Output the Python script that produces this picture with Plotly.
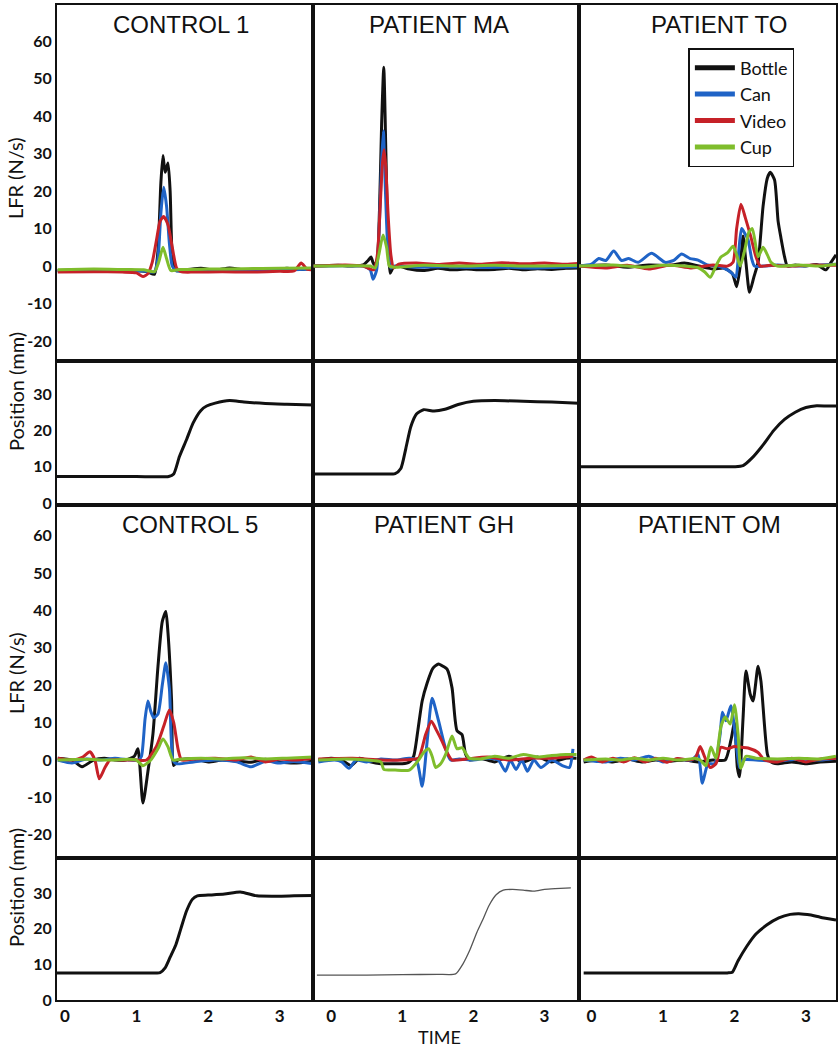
import plotly.graph_objects as go

# ---------------- DATA ----------------
series_names = ["Bottle", "Can", "Video", "Cup"]
panel_titles = ["CONTROL 1", "PATIENT MA", "PATIENT TO", "CONTROL 5", "PATIENT GH", "PATIENT OM"]
lfr_ticks = [60, 50, 40, 30, 20, 10, 0, -10, -20]
lfr_tick_text = ["60", "50", "40", "30", "20", "10", "0", "-10", "-20"]
pos_ticks = [0, 10, 20, 30]
time_ticks = [0, 1, 2, 3]

# CONTROL 1
C1_bottle_t = [-0.1, 0.2, 0.5, 0.8, 1.0, 1.15, 1.25, 1.3, 1.34, 1.37, 1.40, 1.44, 1.47, 1.5, 1.55, 1.7, 1.9, 2.1, 2.3, 2.5, 2.7, 2.9, 3.1, 3.3, 3.47]
C1_bottle_v = [-1.2, -1.0, -1.3, -0.9, -1.2, -1.5, -2.2, 4, 22, 29.5, 25, 27.5, 20, 3, -1.2, -1.0, -0.6, -1.1, -0.5, -1.0, -0.7, -1.1, -0.6, -0.9, -0.5]
C1_can_t = [-0.1, 0.4, 0.8, 1.1, 1.25, 1.3, 1.34, 1.38, 1.42, 1.46, 1.5, 1.56, 1.8, 2.2, 2.6, 3.0, 3.47]
C1_can_v = [-1.3, -1.2, -1.4, -1.3, -1.5, 2, 14, 21, 16, 6, 0, -1.3, -1.2, -1.3, -1.2, -1.1, -0.8]
C1_video_t = [-0.1, 0.4, 0.8, 1.0, 1.09, 1.16, 1.22, 1.28, 1.33, 1.38, 1.44, 1.5, 1.56, 1.62, 1.8, 2.2, 2.6, 3.0, 3.2, 3.3, 3.38, 3.47]
C1_video_v = [-1.6, -1.5, -1.6, -1.8, -2.8, -2.0, 1, 7, 12, 13.2, 11, 5, -0.5, -1.5, -1.6, -1.5, -1.6, -1.4, -1.3, 0.8, -0.8, -1.0]
C1_cup_t = [-0.1, 0.4, 0.8, 1.1, 1.25, 1.31, 1.37, 1.42, 1.48, 1.6, 2.0, 2.5, 3.0, 3.47]
C1_cup_v = [-1.0, -0.8, -0.9, -1.0, -1.5, 1, 5, 2, -1.2, -0.9, -0.8, -0.7, -0.6, -0.5]
C1_pos_t = [-0.11, 0.5, 1.0, 1.45, 1.52, 1.6, 1.7, 1.79, 1.9, 1.98, 2.1, 2.3, 2.5, 2.8, 3.1, 3.47]
C1_pos_v = [7.3, 7.3, 7.3, 7.3, 8.0, 12.8, 17.5, 22, 25.5, 26.7, 27.5, 28.2, 27.8, 27.4, 27.2, 27.0]

# PATIENT MA
MA_bottle_t = [-0.25, 0.1, 0.3, 0.45, 0.52, 0.56, 0.6, 0.64, 0.68, 0.71, 0.74, 0.77, 0.8, 0.83, 0.87, 0.95, 1.1, 1.3, 1.5, 1.7, 1.9, 2.1, 2.3, 2.5, 2.7, 2.9, 3.1, 3.3, 3.48]
MA_bottle_v = [0, 0.2, 0, 0.3, 1.5, 2.4, 0.5, 1, 15, 38, 53, 30, 6, -1.9, -0.5, 0, -0.8, -1.2, -0.6, -1.0, -0.8, -1.0, -0.9, -0.6, -1.0, -0.7, -0.9, -0.6, -0.5]
MA_can_t = [-0.25, 0.2, 0.45, 0.55, 0.59, 0.64, 0.68, 0.71, 0.735, 0.76, 0.8, 0.84, 0.9, 1.2, 1.6, 2.0, 2.4, 2.8, 3.2, 3.48]
MA_can_v = [0, 0.1, 0, -1, -3.5, -1, 12, 28, 36, 22, 4, -0.5, 0, -0.3, -0.2, -0.4, -0.3, -0.5, -0.3, -0.2]
MA_video_t = [-0.25, 0.2, 0.45, 0.6, 0.65, 0.69, 0.72, 0.745, 0.77, 0.8, 0.84, 0.88, 0.95, 1.2, 1.5, 1.8, 2.1, 2.4, 2.7, 3.0, 3.3, 3.48]
MA_video_v = [0, 0.3, 0, -1.0, 3, 16, 27, 31, 26, 14, 3, -0.5, 0.5, 0.8, 0.4, 0.8, 0.5, 0.9, 0.6, 0.8, 0.5, 0.7]
MA_cup_t = [-0.25, 0.3, 0.55, 0.62, 0.67, 0.73, 0.78, 0.82, 0.9, 1.3, 1.8, 2.3, 2.8, 3.48]
MA_cup_v = [0, 0.1, 0, -0.5, 3, 8.3, 5, 0, -0.3, 0.2, 0, 0.2, 0, 0.2]
MA_pos_t = [-0.25, 0.3, 0.7, 0.9, 0.98, 1.05, 1.12, 1.2, 1.3, 1.45, 1.6, 1.8, 2.0, 2.3, 2.7, 3.1, 3.48]
MA_pos_v = [8.0, 8.0, 8.0, 8.1, 9.5, 15, 21, 24.5, 25.7, 25.3, 25.8, 27.2, 28.0, 28.2, 28.0, 27.8, 27.5]

# PATIENT TO
TO_bottle_t = [-0.18, 0.2, 0.5, 0.8, 1.1, 1.3, 1.5, 1.7, 1.85, 1.97, 2.03, 2.08, 2.12, 2.16, 2.21, 2.27, 2.33, 2.4, 2.46, 2.5, 2.56, 2.61, 2.65, 2.7, 2.74, 2.85, 3.0, 3.15, 3.28, 3.35, 3.42]
TO_bottle_v = [0, 0.3, -0.3, 0.3, 0.2, 0.8, 0, -0.8, -0.5, -2, -5.5, 0, 8, 1, -7, -3, 1, 16, 23.5, 25, 23, 12, 7.5, 2.5, 0, 0.3, 0, 0.4, -1, 1, 3]
TO_can_t = [-0.18, 0.0, 0.1, 0.2, 0.31, 0.42, 0.52, 0.65, 0.84, 1.03, 1.15, 1.26, 1.38, 1.49, 1.62, 1.77, 1.9, 1.97, 2.02, 2.06, 2.1, 2.15, 2.19, 2.24, 2.28, 2.4, 2.6, 2.9, 3.2, 3.42]
TO_can_v = [0, 0.5, 2, 1.5, 4, 1.5, 2, 1.0, 3.4, 1.0, 1.5, 3.2, 2, 1.6, 0.3, 0, -1, -2, -3, 4, 10, 8.5, 7, 2, 0, 0, 0.3, 0, 0.3, 0.5]
TO_video_t = [-0.18, 0.2, 0.5, 0.8, 1.1, 1.4, 1.7, 1.9, 1.98, 2.03, 2.09, 2.15, 2.23, 2.3, 2.36, 2.5, 2.8, 3.1, 3.42]
TO_video_v = [0, -0.5, 0.2, -0.8, 0.3, -0.5, 0.3, 0, 1, 10, 16.5, 13, 7.7, 2.5, 0, 0.2, 0, 0.3, 0.2]
TO_cup_t = [-0.18, 0.3, 0.7, 1.0, 1.3, 1.5, 1.58, 1.66, 1.74, 1.81, 1.9, 1.98, 2.03, 2.08, 2.14, 2.2, 2.25, 2.33, 2.4, 2.46, 2.51, 2.6, 2.9, 3.2, 3.42]
TO_cup_v = [0, 0.3, -0.3, 0.2, 0, -0.5, -1.5, -3, 0, 2.4, 3.5, 5.3, 3, 0, 4, 9, 10, 2.5, 5, 3, 1, 0, 0.3, 0, 0.5]
TO_pos_t = [-0.18, 0.5, 1.0, 1.5, 2.0, 2.12, 2.25, 2.4, 2.55, 2.7, 2.85, 3.0, 3.15, 3.3, 3.42]
TO_pos_v = [10, 10, 10, 10, 10, 10.3, 12.5, 16, 20, 23, 25, 26.3, 26.8, 26.7, 26.7]

# CONTROL 5
C5_bottle_t = [-0.1, 0.1, 0.24, 0.4, 0.55, 0.7, 0.85, 0.97, 1.02, 1.09, 1.16, 1.23, 1.3, 1.36, 1.41, 1.44, 1.49, 1.52, 1.58, 1.8, 2.0, 2.2, 2.4, 2.6, 2.8, 3.0, 3.2, 3.47]
C5_bottle_v = [0.5, 0, -1.8, 0, 0.5, 0, 0, 1, 3, -11.5, -3, 7, 25, 37, 39.7, 34, 16, -1.5, 0, 0.3, -0.5, 0, -0.3, -0.6, 0.2, -0.5, -0.8, -0.3]
C5_can_t = [-0.1, 0.1, 0.3, 0.5, 0.7, 0.9, 1.03, 1.07, 1.12, 1.16, 1.2, 1.24, 1.3, 1.36, 1.41, 1.46, 1.51, 1.56, 1.8, 2.1, 2.4, 2.6, 2.8, 3.0, 3.2, 3.47]
C5_can_v = [0, -0.8, 0.3, 0, 0.5, 0, 0, 1, 11, 15.8, 13, 11.3, 12.3, 20, 26, 19, 0, -1, -0.5, 0, -0.5, -1.8, -0.3, -0.8, -0.4, -1.0]
C5_video_t = [-0.1, 0.1, 0.25, 0.35, 0.42, 0.48, 0.56, 0.63, 0.8, 1.0, 1.14, 1.28, 1.38, 1.46, 1.52, 1.58, 1.63, 1.8, 2.1, 2.4, 2.6, 2.8, 3.0, 3.2, 3.47]
C5_video_v = [0.5, 0, 0.8, 2.2, 0, -5, -2, 0, 0, 0, 0, 3.7, 9, 13.4, 10, 3, 0, 0.3, 0.5, 0, 0.8, -0.5, 0.3, 0, 0.5]
C5_cup_t = [-0.1, 0.3, 0.6, 0.9, 1.0, 1.09, 1.2, 1.3, 1.37, 1.44, 1.51, 1.6, 1.9, 2.2, 2.5, 2.8, 3.1, 3.47]
C5_cup_v = [0, 0.2, 0, 0.2, 0, -1.5, 0, 3, 5.6, 3.5, 0, 0.2, 0.5, 0.3, 0.6, 0.3, 0.5, 0.8]
C5_pos_t = [-0.11, 0.5, 1.0, 1.33, 1.4, 1.47, 1.55, 1.62, 1.7, 1.78, 1.85, 2.0, 2.23, 2.45, 2.68, 2.97, 3.2, 3.47]
C5_pos_v = [7.6, 7.6, 7.6, 7.7, 9, 12, 15.5, 20, 25, 28.2, 29.2, 29.4, 29.7, 30.3, 29.2, 29.1, 29.2, 29.3]

# PATIENT GH
GH_bottle_t = [-0.18, 0.0, 0.15, 0.28, 0.4, 0.55, 0.7, 0.85, 1.0, 1.1, 1.16, 1.22, 1.28, 1.35, 1.43, 1.51, 1.58, 1.63, 1.7, 1.77, 1.84, 1.89, 1.95, 2.1, 2.3, 2.5, 2.7, 2.9, 3.1, 3.3, 3.45]
GH_bottle_v = [0, 0.5, 0, -1.5, 0.5, -0.5, -1, -1, -1, -0.5, 1, 8, 15.8, 20.6, 24.5, 25.7, 25, 24.3, 19.3, 7.8, 6.8, 1.6, 0, 0.5, -0.5, 1, -0.5, 0.8, -0.5, 0.5, 0.5]
GH_can_t = [-0.18, 0.05, 0.15, 0.25, 0.35, 0.5, 0.7, 0.9, 1.1, 1.2, 1.28, 1.35, 1.42, 1.51, 1.61, 1.68, 1.8, 2.0, 2.2, 2.35, 2.45, 2.52, 2.6, 2.68, 2.76, 2.85, 2.95, 3.1, 3.25, 3.35, 3.4]
GH_can_v = [-0.5, 0, -0.5, -2.2, 0, -0.5, 0.3, 0, 0.5, 0, -7, 5, 16.5, 10.5, 3, 0, 0.3, 0, 0.5, 0, -3, 0, -2.5, 0, -3, 0, -2, 0, -1.5, -2, 3]
GH_video_t = [-0.18, 0.3, 0.7, 1.0, 1.15, 1.23, 1.33, 1.41, 1.48, 1.56, 1.63, 1.7, 1.9, 2.2, 2.5, 2.8, 3.1, 3.4]
GH_video_v = [0.3, 0.5, 0, 0, 0.2, 0.5, 6.9, 10.4, 8, 5, 2, 0, 0.3, 0.8, 0, 0.5, 0.5, 1]
GH_cup_t = [-0.18, 0.2, 0.5, 0.7, 0.74, 0.9, 1.1, 1.23, 1.3, 1.37, 1.42, 1.47, 1.54, 1.61, 1.7, 1.77, 1.84, 1.94, 2.1, 2.3, 2.5, 2.7, 2.9, 3.1, 3.3, 3.45]
GH_cup_v = [0, 0.3, 0, -0.5, -2.5, -2.7, -2.7, 0, 2, 3, 1, -2, -1, 1.5, 6.4, 3, 3.3, 0.5, 0.3, 1.0, 0.5, 1.5, 0.8, 1.2, 1.5, 1.5]
GH_pos_t = [-0.2, 0.5, 1.0, 1.5, 1.75, 1.85, 1.95, 2.05, 2.13, 2.22, 2.32, 2.42, 2.55, 2.7, 2.85, 3.0, 3.15, 3.37]
GH_pos_v = [7.0, 7.0, 7.1, 7.2, 7.3, 10, 14, 19, 22.4, 26.5, 29.5, 30.8, 31.0, 30.8, 30.5, 31.0, 31.2, 31.4]

# PATIENT OM
OM_bottle_t = [-0.11, 0.1, 0.3, 0.5, 0.7, 0.9, 1.1, 1.3, 1.5, 1.7, 1.87, 1.95, 2.0, 2.04, 2.07, 2.12, 2.16, 2.22, 2.26, 2.33, 2.37, 2.46, 2.51, 2.6, 2.8, 3.0, 3.2, 3.42]
OM_bottle_v = [-0.5, 0, -0.5, 0.3, -0.5, 0, -0.3, 0, -0.5, 0, 0, 5.3, 10, -2, -4.5, 11.3, 23.8, 17.6, 15.8, 25.1, 21.1, 1.6, -0.5, -1, -0.5, -1, -0.5, -0.3]
OM_can_t = [-0.11, 0.2, 0.4, 0.6, 0.8, 1.0, 1.2, 1.4, 1.49, 1.55, 1.63, 1.72, 1.8, 1.83, 1.88, 1.95, 2.02, 2.07, 2.12, 2.3, 2.6, 2.9, 3.2, 3.42]
OM_can_v = [0, -0.5, 0.5, 0, 1, -0.5, 0.3, 0, 1.5, -6.2, -1, -1, 7, 12.8, 10.5, 14.5, 5, -2, 0, 0, -0.3, 0.3, 0, 0.5]
OM_video_t = [-0.11, 0.0, 0.15, 0.3, 0.45, 0.6, 0.75, 0.9, 1.05, 1.2, 1.35, 1.45, 1.52, 1.59, 1.66, 1.74, 1.81, 1.9, 2.0, 2.1, 2.19, 2.33, 2.42, 2.6, 2.8, 3.0, 3.2, 3.42]
OM_video_v = [0, 0.8, -0.5, 0.5, -0.5, 0.6, -0.5, 0.5, -0.6, 0.4, 0, 0.5, 3.6, 0.5, -2, -1, 3.4, 3.0, 3.6, 3.4, 3.2, 2, 0, -0.5, 0.5, -0.5, 0.3, 0.5]
OM_cup_t = [-0.11, 0.2, 0.4, 0.6, 0.8, 1.0, 1.2, 1.38, 1.45, 1.52, 1.6, 1.67, 1.74, 1.81, 1.87, 1.94, 2.0, 2.05, 2.09, 2.16, 2.3, 2.6, 2.9, 3.2, 3.42]
OM_cup_v = [0, 0.3, 0, 0.5, 0, 0.5, 0, 0.3, 0.5, 0, -1.5, 3.5, 0.5, 8.9, 11.5, 9.6, 14.8, 6.9, -2.2, 1, 0.5, 0.3, 0.5, 0.3, 1.0]
OM_pos_t = [-0.11, 0.5, 1.0, 1.5, 1.9, 1.97, 2.05, 2.17, 2.3, 2.45, 2.62, 2.78, 2.9, 3.07, 3.2, 3.42]
OM_pos_v = [7.6, 7.6, 7.6, 7.6, 7.6, 7.8, 11, 15, 18.5, 21, 23, 24, 24.2, 23.8, 23.2, 22.4]

# ---------------- FIGURE ----------------
lfr_data = [
    [(C1_bottle_t, C1_bottle_v), (C1_can_t, C1_can_v), (C1_video_t, C1_video_v), (C1_cup_t, C1_cup_v)],
    [(MA_bottle_t, MA_bottle_v), (MA_can_t, MA_can_v), (MA_video_t, MA_video_v), (MA_cup_t, MA_cup_v)],
    [(TO_bottle_t, TO_bottle_v), (TO_can_t, TO_can_v), (TO_video_t, TO_video_v), (TO_cup_t, TO_cup_v)],
    [(C5_bottle_t, C5_bottle_v), (C5_can_t, C5_can_v), (C5_video_t, C5_video_v), (C5_cup_t, C5_cup_v)],
    [(GH_bottle_t, GH_bottle_v), (GH_can_t, GH_can_v), (GH_video_t, GH_video_v), (GH_cup_t, GH_cup_v)],
    [(OM_bottle_t, OM_bottle_v), (OM_can_t, OM_can_v), (OM_video_t, OM_video_v), (OM_cup_t, OM_cup_v)],
]
pos_data = [(C1_pos_t, C1_pos_v), (MA_pos_t, MA_pos_v), (TO_pos_t, TO_pos_v),
            (C5_pos_t, C5_pos_v), (GH_pos_t, GH_pos_v), (OM_pos_t, OM_pos_v)]

colors = ["#111111", "#1f63c6", "#c62128", "#7fbd2c"]

W, H = 839, 1050
ML, MR, MT, MB = 57, 1, 5, 50
PW = W - ML - MR
PH = H - MT - MB


def px2x(px):
    return (px - ML) / PW


def px2y(py):
    return (H - MB - py) / PH


col_px = [(57, 314), (314, 580), (580, 838)]
row_px = [(5, 361), (361, 505), (505, 858), (858, 1000)]
col_ranges = [[-0.11, 3.47], [-0.25, 3.48], [-0.18, 3.42]]
row_ranges = [[-25.3, 69.6], [-0.55, 39.1], [-26.2, 68.2], [0, 39.8]]

fig = go.Figure()
layout = {}
tick_font = dict(family="Lato, Open Sans, sans-serif", size=16, color="#111", weight="bold")
xtick_font = dict(family="Liberation Sans Narrow, Lato, sans-serif", size=17, color="#111", weight="bold")

for r in range(4):
    for c in range(3):
        k = r * 3 + c + 1
        xa = "xaxis" if k == 1 else f"xaxis{k}"
        ya = "yaxis" if k == 1 else f"yaxis{k}"
        layout[xa] = dict(
            domain=[px2x(col_px[c][0]), px2x(col_px[c][1])],
            anchor="y" if k == 1 else f"y{k}",
            range=col_ranges[c], showgrid=False, zeroline=False,
            showline=True, mirror=True, linecolor="#111", linewidth=2,
            ticks="", tickvals=time_ticks, showticklabels=(r == 3),
            tickfont=xtick_font,
        )
        is_lfr = r in (0, 2)
        layout[ya] = dict(
            domain=[px2y(row_px[r][1]), px2y(row_px[r][0])],
            anchor="x" if k == 1 else f"x{k}",
            range=row_ranges[r], showgrid=False, zeroline=False,
            showline=True, mirror=True, linecolor="#111", linewidth=2,
            ticks="", tickvals=lfr_ticks if is_lfr else pos_ticks,
            ticktext=lfr_tick_text if is_lfr else [str(v) for v in pos_ticks],
            showticklabels=(c == 0), tickfont=tick_font,
        )

# legend-only entries (thicker sample lines, as in the reference)
for s in range(4):
    fig.add_trace(go.Scatter(
        x=[None], y=[None], mode="lines", name=series_names[s],
        line=dict(color=colors[s], width=5), legendgroup=series_names[s],
        showlegend=True, xaxis="x3", yaxis="y3", hoverinfo="skip",
    ))

for p in range(6):
    rr = 0 if p < 3 else 2
    c = p % 3
    k = rr * 3 + c + 1
    xr = "x" if k == 1 else f"x{k}"
    yr = "y" if k == 1 else f"y{k}"
    for s in range(4):
        t, v = lfr_data[p][s]
        fig.add_trace(go.Scatter(
            x=t, y=v, mode="lines", name=series_names[s],
            line=dict(color=colors[s], width=3, shape="spline", smoothing=0.6),
            xaxis=xr, yaxis=yr, legendgroup=series_names[s], showlegend=False,
            hoverinfo="skip",
        ))
    k2 = (rr + 1) * 3 + c + 1
    t, v = pos_data[p]
    gray = (p == 4)
    fig.add_trace(go.Scatter(
        x=t, y=v, mode="lines", showlegend=False,
        line=dict(color="#555555" if gray else "#111111", width=1.3 if gray else 3,
                  shape="spline", smoothing=0.6),
        xaxis=f"x{k2}", yaxis=f"y{k2}", hoverinfo="skip",
    ))

title_pos = [(181, 25), (440, 25), (721, 25), (190, 524), (445, 524), (711, 524)]
annotations = []
for p, (tx, ty) in enumerate(title_pos):
    annotations.append(dict(
        x=px2x(tx), y=px2y(ty), xref="paper", yref="paper", text=panel_titles[p],
        showarrow=False, xanchor="center", yanchor="middle",
        font=dict(family="Liberation Sans, Arial, sans-serif", size=24, color="#111"),
    ))

ylab_font = dict(family="Lato, Open Sans, sans-serif", size=20, color="#111")
for txt, (ax_, ay_) in [("LFR (N/s)", (15, 178)), ("Position (mm)", (16, 392)),
                         ("LFR (N/s)", (16, 673)), ("Position (mm)", (16, 888))]:
    annotations.append(dict(
        x=px2x(ax_), y=px2y(ay_), xref="paper", yref="paper", text=txt,
        showarrow=False, textangle=-90, xanchor="center", yanchor="middle", font=ylab_font,
    ))

annotations.append(dict(
    x=px2x(440), y=px2y(1037), xref="paper", yref="paper", text="TIME", showarrow=False,
    xanchor="center", yanchor="middle",
    font=dict(family="Liberation Sans Narrow, Lato, sans-serif", size=18, color="#111"),
))

shapes = [dict(type="line", xref="paper", yref="paper", x0=0, x1=1,
               y0=px2y(505), y1=px2y(505), line=dict(color="#111", width=3))]

fig.update_layout(
    width=W, height=H,
    margin=dict(l=ML, r=MR, t=MT, b=MB),
    paper_bgcolor="white", plot_bgcolor="white",
    annotations=annotations, shapes=shapes,
    legend=dict(
        x=px2x(690), y=px2y(48), xanchor="left", yanchor="top",
        bordercolor="#111", borderwidth=1.5, bgcolor="white",
        font=dict(family="Lato, Open Sans, sans-serif", size=18, color="#111"),
        tracegroupgap=0, itemwidth=40,
    ),
    **layout,
)

fig.write_html(
    "out.html",
    config={"displayModeBar": False},
    post_script="document.body.style.margin='0px';document.body.style.overflow='hidden';",
)
